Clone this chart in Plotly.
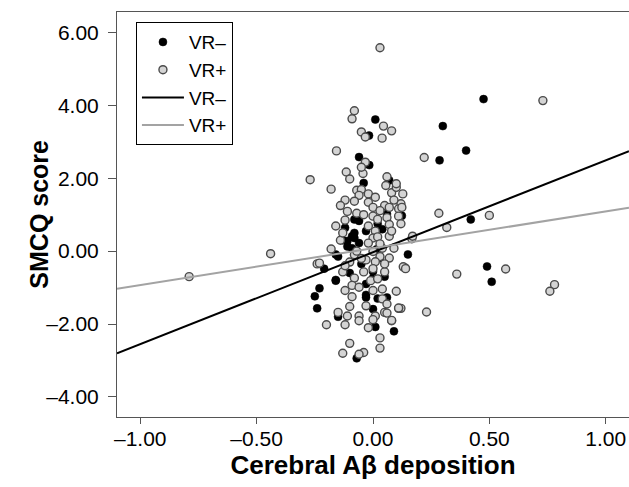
import plotly.graph_objects as go

# VR– (black dots)
neg_x = [0.475, 0.30, 0.40, 0.286, 0.42, 0.124, 0.15, 0.49, 0.51, 0.01,
         -0.017, -0.06, -0.016, 0.07, -0.04, -0.12, -0.08, -0.06, -0.03, -0.08,
         -0.09, -0.11, -0.09, -0.15, -0.21, -0.16, -0.23, -0.25, -0.24, -0.03,
         -0.03, 0.06, 0.00, -0.15, 0.01, 0.09, -0.07, 0.06, -0.08, -0.11,
         -0.06, 0.016, 0.03, 0.00, 0.00, -0.03, 0.02, -0.16, -0.16, 0.04,
         -0.05, 0.05, -0.10, 0.02, -0.13]
neg_y = [4.17, 3.43, 2.76, 2.49, 0.87, 0.97, -0.09, -0.42, -0.84, 3.61,
         3.17, 2.58, 2.36, 1.94, 1.87, 0.64, 0.87, 0.83, 0.55, 0.36,
         0.41, 0.13, 0.08, -0.15, -0.48, -0.81, -1.02, -1.24, -1.57, -0.90,
         -1.27, -1.27, -1.59, -1.80, -2.08, -2.20, -2.94, 1.02, 0.50, 0.28,
         0.22, 0.05, -0.19, -0.56, -0.74, -1.20, -1.30, -0.79, -0.09, 0.60,
         -0.35, -0.70, -0.60, 0.75, 0.30]

# VR+ (grey circles)
pos_x = [0.03, -0.08, -0.09, 0.045, 0.08, -0.05, -0.033, 0.039, -0.157, -0.033,
         -0.115, -0.043, -0.10, 0.06, 0.055, 0.22, 0.73, -0.27, -0.18, -0.07,
         -0.05, -0.06, -0.02, 0.01, 0.08, 0.128, -0.08, -0.02, 0.00, 0.05,
         0.07, 0.12, 0.11, 0.124, -0.11, -0.07, 0.03, 0.283, 0.317, 0.50,
         0.167, 0.138, 0.36, 0.57, 0.78, 0.76, 0.12, 0.23, -0.79, -0.44,
         -0.24, -0.20, -0.16, -0.12, 0.00, 0.02, 0.06, 0.11, -0.02, 0.01,
         0.07, 0.07, 0.00, 0.02, -0.02, -0.18, 0.04, 0.09, 0.17, 0.00,
         -0.08, 0.03, -0.03, 0.07, -0.23, 0.01, 0.13, -0.13, -0.08, -0.04,
         0.00, 0.05, 0.14, -0.12, -0.09, -0.06, -0.01, 0.02, 0.04, 0.00,
         0.04, -0.03, -0.10, -0.15, 0.11, 0.01, 0.05, -0.11, -0.06, -0.12,
         -0.06, 0.00, 0.08, 0.03, 0.03, -0.10, -0.13, -0.04, -0.06, 0.06,
         0.08, 0.11, -0.12, -0.14, 0.10,
         -0.10, -0.05, 0.05, -0.07, 0.03, -0.13, 0.08, -0.04, 0.09, -0.09,
         0.06, -0.02, 0.10, -0.12, 0.12, -0.05, 0.10, -0.14]
pos_y = [5.58, 3.85, 3.63, 3.43, 3.30, 3.27, 3.13, 3.10, 2.75, 2.44,
         2.17, 2.13, 1.98, 2.04, 1.80, 2.57, 4.13, 1.96, 1.70, 1.67,
         1.69, 1.53, 1.57, 1.48, 1.60, 1.57, 1.37, 1.34, 1.20, 1.25,
         1.20, 1.30, 1.16, 1.20, 1.09, 1.04, 1.11, 1.04, 0.65, 0.98,
         0.34, -0.46, -0.63, -0.49, -0.92, -1.10, -1.57, -1.67, -0.70, -0.07,
         -0.35, -2.02, 0.69, 0.85, 0.96, 0.87, 0.92, 0.96, 0.69, 0.55,
         0.73, 0.41, 0.36, 0.39, 0.22, 0.06, 0.08, 0.08, 0.41, -0.01,
         -0.10, -0.15, -0.24, -0.19, -0.33, -0.29, -0.43, -0.57, -0.74, -0.57,
         -0.48, -0.57, -0.48, -1.08, -0.94, -0.99, -0.81, -0.76, -1.04, -1.08,
         -1.31, -1.50, -1.52, -1.68, -1.57, -1.78, -1.68, -1.78, -1.78, -2.02,
         -1.91, -1.88, -1.91, -2.38, -2.66, -2.53, -2.80, -2.78, -2.83, -1.70,
         -1.90, -1.56, 1.40, 0.30, 1.75,
         -0.30, -0.20, -0.35, 0.00, 0.20, 0.50, 0.55, 1.00, 1.40, -1.25,
         -1.45, -2.10, -1.10, -0.40, 0.75, 2.30, 1.85, 1.25]

# Fit lines (slope, intercept)
neg_fit = (2.52, -0.03)
pos_fit = (1.01, 0.08)
fit_x = [-1.1, 1.1]

x_ticks = [-1.0, -0.5, 0.0, 0.5, 1.0]
x_labels = ["\u20131.00", "\u20130.50", "0.00", "0.50", "1.00"]
y_ticks = [-4, -2, 0, 2, 4, 6]
y_labels = ["\u20134.00", "\u20132.00", "0.00", "2.00", "4.00", "6.00"]

FONT = "Liberation Sans, Arial, sans-serif"

fig = go.Figure()
fig.add_trace(go.Scatter(
    x=neg_x, y=neg_y, mode="markers", name="VR\u2013",
    marker=dict(color="black", size=8, line=dict(color="black", width=0.5))))
fig.add_trace(go.Scatter(
    x=pos_x, y=pos_y, mode="markers", name="VR+",
    marker=dict(color="#d4d4d4", size=8, line=dict(color="#4a4a4a", width=1.4))))
fig.add_trace(go.Scatter(
    x=fit_x, y=[neg_fit[0] * v + neg_fit[1] for v in fit_x], mode="lines",
    name="VR\u2013", line=dict(color="black", width=2)))
fig.add_trace(go.Scatter(
    x=fit_x, y=[pos_fit[0] * v + pos_fit[1] for v in fit_x], mode="lines",
    name="VR+", line=dict(color="#a3a3a3", width=2)))

fig.update_layout(
    width=629, height=487,
    margin=dict(l=117, r=0, t=12, b=70),
    plot_bgcolor="white", paper_bgcolor="white",
    font=dict(family=FONT, color="black", size=20),
    showlegend=True,
    legend=dict(x=0.037, y=0.975, xanchor="left", yanchor="top",
                bgcolor="white", bordercolor="black", borderwidth=1,
                itemwidth=42, entrywidth=90, font=dict(size=19, family=FONT)),
    xaxis=dict(range=[-1.1, 1.1], tickvals=x_ticks, ticktext=x_labels,
               automargin=False, ticklabelstandoff=-3,
               showgrid=False, zeroline=False, showline=True, linecolor="#555",
               linewidth=1, mirror=True, ticks="outside", ticklen=6,
               tickcolor="#555", tickfont=dict(size=21),
               title=dict(text="<b>Cerebral A\u03b2 deposition</b>",
                          font=dict(size=26), standoff=6)),
    yaxis=dict(range=[-4.55, 6.56], tickvals=y_ticks, ticktext=y_labels,
               automargin=False, ticklabelstandoff=5,
               showgrid=False, zeroline=False, showline=True, linecolor="#555",
               linewidth=1, mirror=True, ticks="outside", ticklen=8,
               tickcolor="#555", tickfont=dict(size=21)),
    annotations=[dict(text="<b>SMCQ score</b>", textangle=-90,
                      xref="paper", yref="paper", x=-0.154, y=0.5,
                      xanchor="center", yanchor="middle", showarrow=False,
                      font=dict(size=25, family=FONT, color="black"))],
)

# remove the page's default body margin so the figure fills the window
fig.write_html(
    "out.html",
    config={"displayModeBar": False},
    post_script=("document.body.style.margin='0';"
                 "document.body.style.overflow='hidden';"
                 "document.documentElement.style.overflow='hidden';"))
